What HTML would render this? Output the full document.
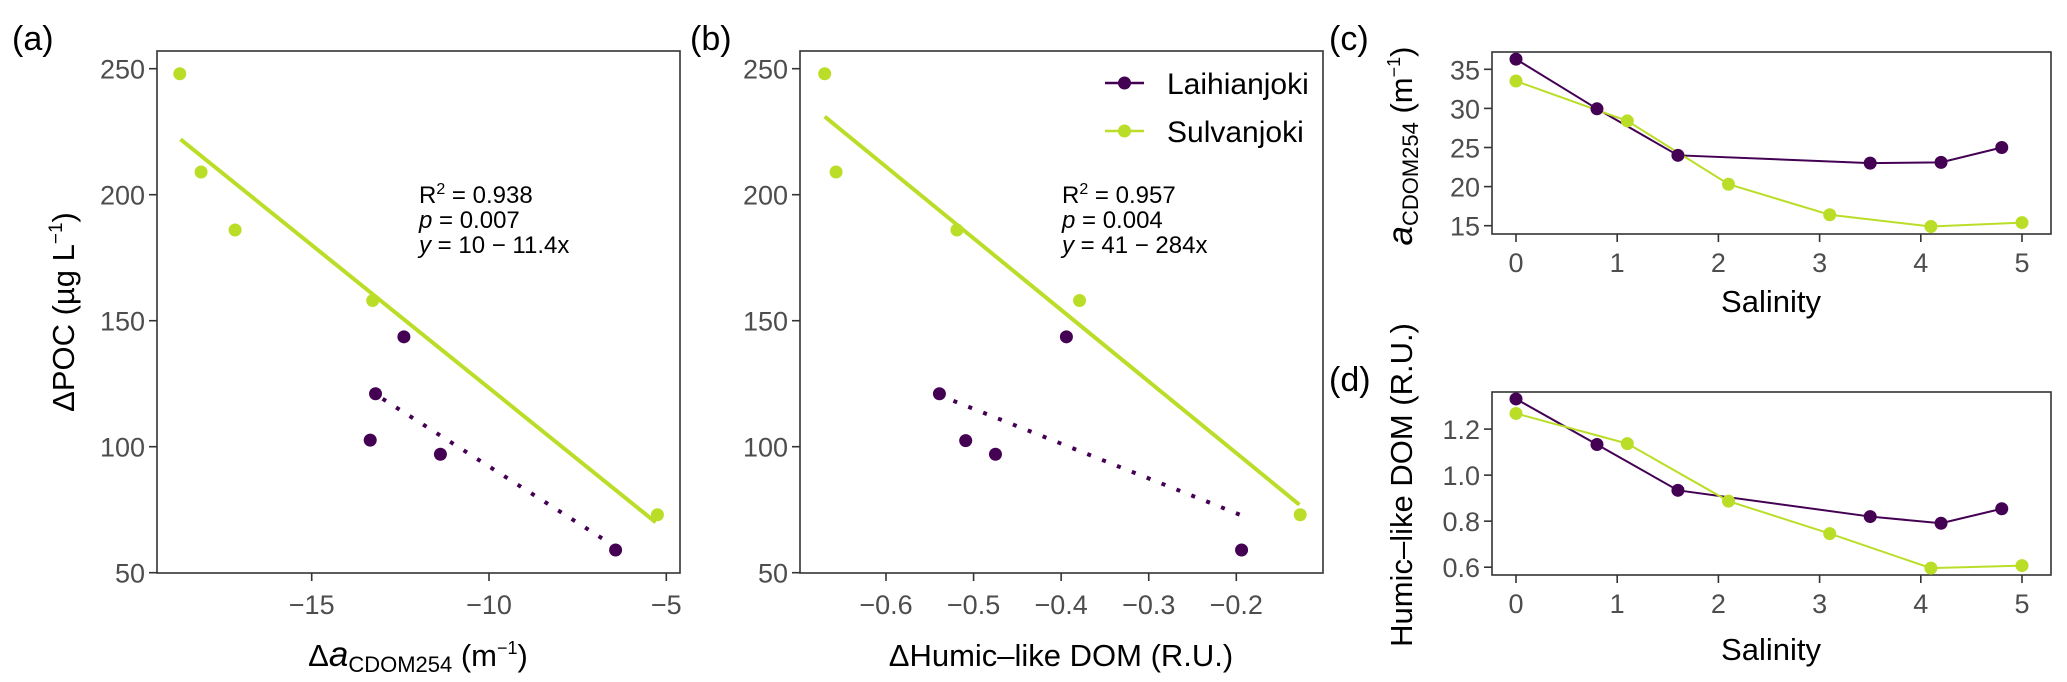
<!DOCTYPE html>
<html><head><meta charset="utf-8">
<style>
html,body{margin:0;padding:0;background:#fff;}
svg{display:block;font-family:"Liberation Sans",sans-serif;}
.tick{fill:#4d4d4d;font-size:27px;}
.title{fill:#000;font-size:31px;}
</style></head>
<body>
<svg id="fig" width="2067" height="682" viewBox="0 0 2067 682" xmlns="http://www.w3.org/2000/svg">
<text x="12" y="50" font-size="34">(a)</text>
<text x="690" y="50" font-size="34">(b)</text>
<text x="1329" y="50" font-size="34">(c)</text>
<text x="1329" y="391" font-size="34">(d)</text>
</svg>
<script>
// ---- data ----
const aSulvX = [-18.72, -18.12, -17.16, -13.28, -5.25];
const aSulvY = [248, 209, 186, 158, 73];
const aLaihX = [-12.4, -13.2, -13.35, -11.37, -6.43];
const aLaihY = [143.6, 121, 102.6, 97, 59];
const aSulvFitX = [-18.7, -5.3];
const aSulvFitY = [222, 70];
const aLaihFitX = [-13.0, -6.74];
const aLaihFitY = [119, 63];
const aXTicks = [-15, -10, -5];
const pocTicks = [50, 100, 150, 200, 250];

const bSulvX = [-0.670, -0.657, -0.519, -0.379, -0.127];
const bSulvY = [248, 209, 186, 158, 73];
const bLaihX = [-0.394, -0.539, -0.509, -0.475, -0.194];
const bLaihY = [143.6, 121, 102.4, 97, 59];
const bSulvFitX = [-0.67, -0.128];
const bSulvFitY = [231, 77];
const bLaihFitX = [-0.523, -0.195];
const bLaihFitY = [118.2, 72.9];
const bXTicks = [-0.6, -0.5, -0.4, -0.3, -0.2];

const salLaih = [0, 0.8, 1.6, 3.5, 4.2, 4.8];
const salSulv = [0, 1.1, 2.1, 3.1, 4.1, 5.0];
const cLaih = [36.3, 29.95, 24.0, 23.0, 23.1, 25.0];
const cSulv = [33.5, 28.4, 20.3, 16.4, 14.9, 15.4];
const dLaih = [1.331, 1.133, 0.934, 0.82, 0.791, 0.854];
const dSulv = [1.268, 1.137, 0.887, 0.746, 0.596, 0.607];
const salTicks = [0, 1, 2, 3, 4, 5];
const cTicks = [15, 20, 25, 30, 35];
const dTicks = [0.6, 0.8, 1.0, 1.2];
const dTickLabels = ["0.6", "0.8", "1.0", "1.2"];

const PURPLE = "#440154", GREEN = "#bade28";
const NS = "http://www.w3.org/2000/svg";
const svg = document.getElementById('fig');
function mk(tag, attrs, parent) {
  const e = document.createElementNS(NS, tag);
  for (const k in attrs) e.setAttribute(k, attrs[k]);
  (parent || svg).appendChild(e);
  return e;
}
function lin(d0, d1, r0, r1) { return v => r0 + (v - d0) / (d1 - d0) * (r1 - r0); }

function axes(box, sx, sy, xt, xl, yt, yl, name) {
  const g = mk('g', {});
  
  
  const r = mk('rect', {x: box.l, y: box.t, width: box.r - box.l, height: box.b - box.t, fill: 'none', stroke: '#333', 'stroke-width': 1.6}, g);
  
  
  xt.forEach((v, i) => {
    const x = sx(v);
    mk('line', {x1: x, x2: x, y1: box.b, y2: box.b + 8, stroke: '#333', 'stroke-width': 1.6}, g);
    const t = mk('text', {x: x, y: box.b + box.xlOff, 'text-anchor': 'middle', class: 'tick'}, g);
    t.textContent = xl[i];
    
    
  });
  yt.forEach((v, i) => {
    const y = sy(v);
    mk('line', {x1: box.l - 8, x2: box.l, y1: y, y2: y, stroke: '#333', 'stroke-width': 1.6}, g);
    const t = mk('text', {x: box.l - 12, y: y + 10, 'text-anchor': 'end', class: 'tick'}, g);
    t.textContent = yl[i];
    
    
  });
}
function points(xs, ys, sx, sy, col, rad, name) {
  xs.forEach((v, i) => {
    const c = mk('circle', {cx: sx(v), cy: sy(ys[i]), r: rad, fill: col});
    
    
  });
}
function polyline(xs, ys, sx, sy, col, w, dash, name) {
  const p = mk('polyline', {points: xs.map((v, i) => sx(v) + ',' + sy(ys[i])).join(' '), fill: 'none', stroke: col, 'stroke-width': w});
  if (dash) { p.setAttribute('stroke-dasharray', dash); p.setAttribute('stroke-linecap', 'butt'); }
  
  
}
function txt(x, y, s, attrs, name) {
  const t = mk('text', Object.assign({x: x, y: y}, attrs || {}));
  t.innerHTML = s;
  
  
  return t;
}

// ---- panel a ----
const boxA = {l: 157, r: 680, t: 51, b: 573, xlOff: 41};
const sxA = lin(-15, -5, 311.7, 666.3), syA = lin(50, 250, 572.7, 68.7);
axes(boxA, sxA, syA, aXTicks, aXTicks.map(v => '\u2212' + Math.abs(v)), pocTicks, pocTicks.map(String), 'panel-a');
polyline(aSulvFitX, aSulvFitY, sxA, syA, GREEN, 4, null, 'panel-a-sulvanjoki-fit');
polyline(aLaihFitX, aLaihFitY, sxA, syA, PURPLE, 4, '4 12', 'panel-a-laihianjoki-fit');
points(aSulvX, aSulvY, sxA, syA, GREEN, 6.5, 'panel-a-sulvanjoki-point');
points(aLaihX, aLaihY, sxA, syA, PURPLE, 6.5, 'panel-a-laihianjoki-point');
txt(419, 203, 'R<tspan dy="-9" font-size="16">2</tspan><tspan dy="9"> = 0.938</tspan>', {'font-size': 24}, 'panel-a-r2');
txt(419, 228, '<tspan font-style="italic">p</tspan> = 0.007', {'font-size': 24}, 'panel-a-p');
txt(419, 253, '<tspan font-style="italic">y</tspan> = 10 − 11.4x', {'font-size': 24}, 'panel-a-equation');
txt(418, 666, 'Δ<tspan font-style="italic" font-size="35">a</tspan><tspan font-size="22" dy="6">CDOM254</tspan><tspan dy="-6"> (m</tspan><tspan font-size="18" dy="-12">−1</tspan><tspan dy="12">)</tspan>', {'text-anchor': 'middle', class: 'title'}, 'panel-a-x-title');
txt(0, 0, 'ΔPOC (µg L<tspan font-size="19" dy="-12">−1</tspan><tspan dy="12">)</tspan>', {'text-anchor': 'middle', class: 'title', transform: 'translate(74,312) rotate(-90)'}, 'panel-a-y-title');

// ---- panel b ----
const boxB = {l: 800, r: 1323, t: 51, b: 573, xlOff: 41};
const sxB = lin(-0.6, -0.2, 886, 1236.3), syB = syA;
axes(boxB, sxB, syB, bXTicks, bXTicks.map(v => '\u2212' + Math.abs(v).toFixed(1)), pocTicks, pocTicks.map(String), 'panel-b');
polyline(bSulvFitX, bSulvFitY, sxB, syB, GREEN, 4, null, 'panel-b-sulvanjoki-fit');
polyline(bLaihFitX, bLaihFitY, sxB, syB, PURPLE, 4, '4 12', 'panel-b-laihianjoki-fit');
points(bSulvX, bSulvY, sxB, syB, GREEN, 6.5, 'panel-b-sulvanjoki-point');
points(bLaihX, bLaihY, sxB, syB, PURPLE, 6.5, 'panel-b-laihianjoki-point');
txt(1062, 203, 'R<tspan dy="-9" font-size="16">2</tspan><tspan dy="9"> = 0.957</tspan>', {'font-size': 24}, 'panel-b-r2');
txt(1062, 228, '<tspan font-style="italic">p</tspan> = 0.004', {'font-size': 24}, 'panel-b-p');
txt(1062, 253, '<tspan font-style="italic">y</tspan> = 41 − 284x', {'font-size': 24}, 'panel-b-equation');
txt(1061, 666, 'ΔHumic–like DOM (R.U.)', {'text-anchor': 'middle', class: 'title'}, 'panel-b-x-title');
// legend
const leg = [[PURPLE, 'Laihianjoki', 83], [GREEN, 'Sulvanjoki', 131]];
leg.forEach(l => {
  const g = mk('g', {});
  
  
  mk('line', {x1: 1105, x2: 1144, y1: l[2], y2: l[2], stroke: l[0], 'stroke-width': 2.5}, g);
  mk('circle', {cx: 1124.5, cy: l[2], r: 6.5, fill: l[0]}, g);
  const t = mk('text', {x: 1167, y: l[2] + 11, 'font-size': 30}, g);
  t.textContent = l[1];
});

// ---- panel c ----
const boxC = {l: 1492, r: 2051, t: 52, b: 234, xlOff: 38};
const sxC = lin(0, 5, 1516, 2022), syC = lin(15, 35, 225.7, 69.3);
axes(boxC, sxC, syC, salTicks, salTicks.map(String), cTicks, cTicks.map(String), 'panel-c');
polyline(salLaih, cLaih, sxC, syC, PURPLE, 2, null, 'panel-c-laihianjoki-line');
polyline(salSulv, cSulv, sxC, syC, GREEN, 2, null, 'panel-c-sulvanjoki-line');
points(salLaih, cLaih, sxC, syC, PURPLE, 6.5, 'panel-c-laihianjoki-point');
points(salSulv, cSulv, sxC, syC, GREEN, 6.5, 'panel-c-sulvanjoki-point');
txt(1771, 312, 'Salinity', {'text-anchor': 'middle', class: 'title'}, 'panel-c-x-title');
txt(0, 0, '<tspan font-style="italic" font-size="35">a</tspan><tspan font-size="22" dy="6">CDOM254</tspan><tspan dy="-6"> (m</tspan><tspan font-size="18" dy="-12">−1</tspan><tspan dy="12">)</tspan>', {'text-anchor': 'middle', class: 'title', transform: 'translate(1412,146) rotate(-90)'}, 'panel-c-y-title');

// ---- panel d ----
const boxD = {l: 1492, r: 2051, t: 392, b: 575, xlOff: 38};
const sxD = sxC, syD = lin(0.6, 1.2, 567.2, 429.1);
axes(boxD, sxD, syD, salTicks, salTicks.map(String), dTicks, dTickLabels, 'panel-d');
polyline(salLaih, dLaih, sxD, syD, PURPLE, 2, null, 'panel-d-laihianjoki-line');
polyline(salSulv, dSulv, sxD, syD, GREEN, 2, null, 'panel-d-sulvanjoki-line');
points(salLaih, dLaih, sxD, syD, PURPLE, 6.5, 'panel-d-laihianjoki-point');
points(salSulv, dSulv, sxD, syD, GREEN, 6.5, 'panel-d-sulvanjoki-point');
txt(1771, 660, 'Salinity', {'text-anchor': 'middle', class: 'title'}, 'panel-d-x-title');
txt(0, 0, 'Humic–like DOM (R.U.)', {'text-anchor': 'middle', class: 'title', transform: 'translate(1412,485) rotate(-90)'}, 'panel-d-y-title');
</script>
</body></html>
